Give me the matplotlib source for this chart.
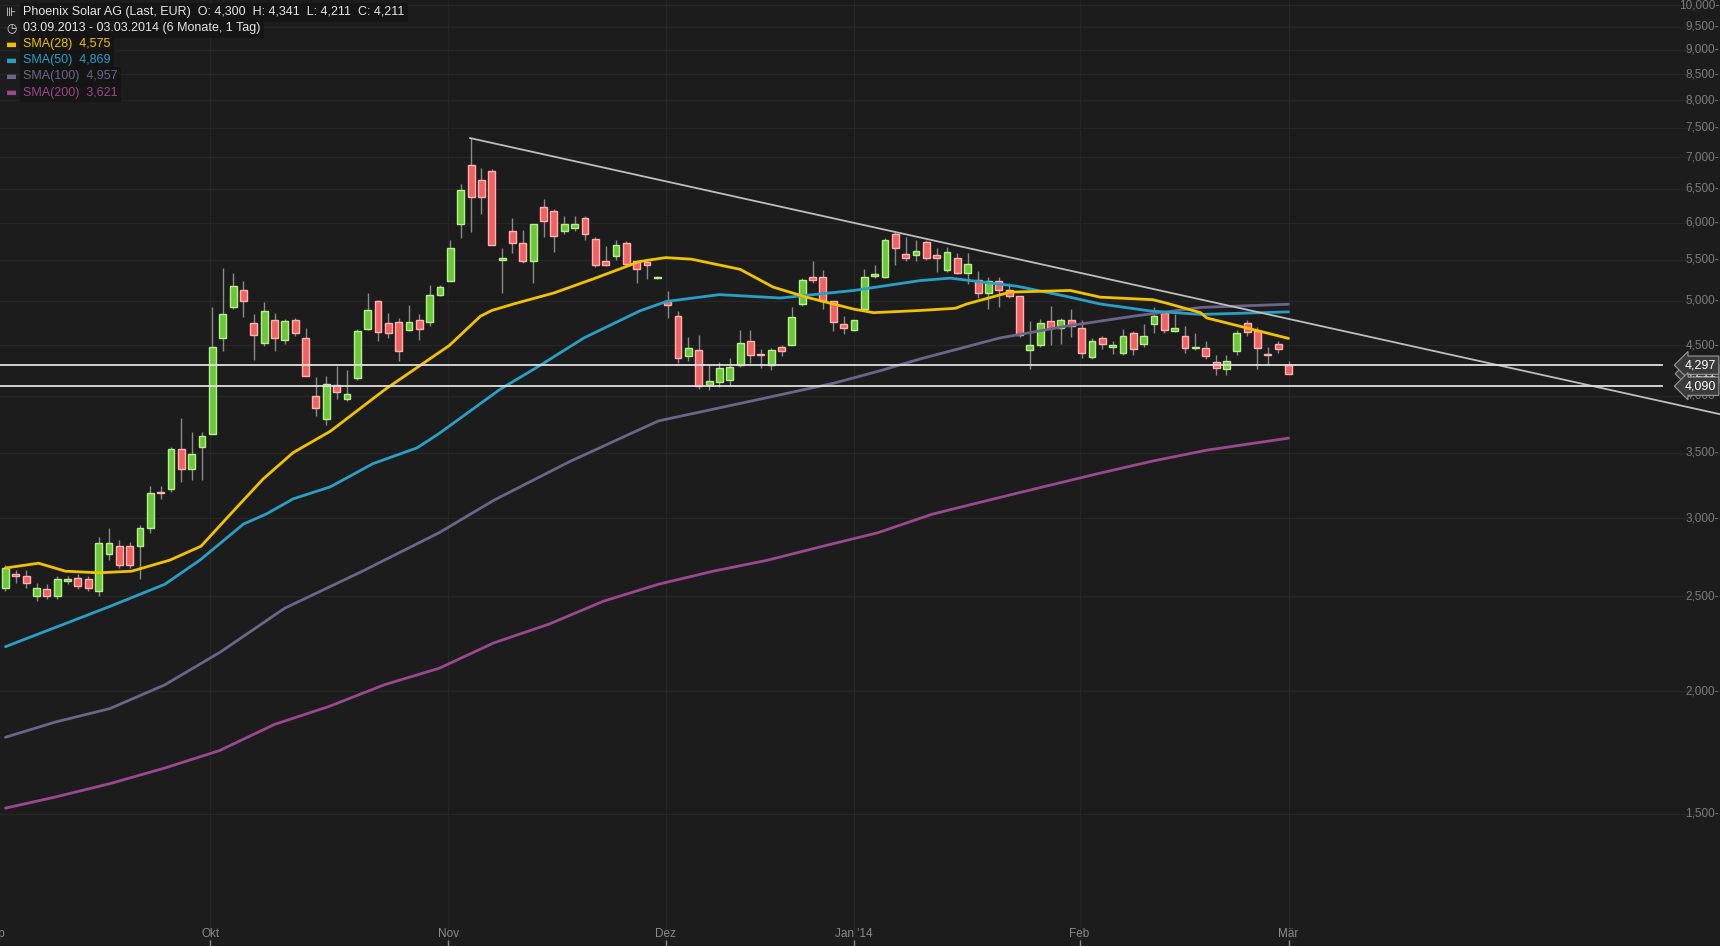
import numpy as np
import matplotlib
matplotlib.use("Agg")
import matplotlib.pyplot as plt
from matplotlib.transforms import blended_transform_factory

plt.rcParams['font.family'] = ['Liberation Sans', 'DejaVu Sans']

# ─── Daily candles (open, high, low, close), 03.09.2013 - 03.03.2014 ───
OPEN = [2.55, 2.63, 2.62, 2.50, 2.54, 2.50, 2.59, 2.61, 2.60, 2.53,
        2.76, 2.81, 2.81, 2.81, 2.93, 3.19, 3.21, 3.53, 3.37, 3.55,
        3.66, 4.58, 4.93, 5.13, 4.74, 4.53, 4.78, 4.56, 4.78, 4.58,
        4.00, 3.79, 4.10, 3.97, 4.17, 4.68, 4.99, 4.74, 4.76, 4.67,
        4.78, 4.76, 5.06, 5.24, 5.98, 6.87, 6.63, 6.78, 5.50, 5.89,
        5.72, 5.48, 6.23, 6.17, 5.89, 5.93, 6.07, 5.78, 5.48, 5.55,
        5.72, 5.48, 5.47, 5.27, 4.99, 4.82, 4.39, 4.45, 4.10, 4.13,
        4.15, 4.30, 4.55, 4.41, 4.30, 4.48, 4.51, 4.96, 5.28, 5.28,
        4.99, 4.73, 4.67, 4.90, 5.30, 5.28, 5.85, 5.58, 5.56, 5.74,
        5.56, 5.37, 5.52, 5.33, 5.25, 5.09, 5.23, 5.13, 5.05, 4.45,
        4.50, 4.77, 4.69, 4.78, 4.69, 4.38, 4.58, 4.48, 4.42, 4.63,
        4.52, 4.73, 4.86, 4.66, 4.60, 4.47, 4.47, 4.33, 4.26, 4.44,
        4.74, 4.65, 4.41, 4.52, 4.30]
HIGH = [2.69, 2.66, 2.66, 2.58, 2.57, 2.62, 2.62, 2.63, 2.62, 2.87,
        2.93, 2.85, 2.84, 2.95, 3.24, 3.24, 3.55, 3.80, 3.67, 3.67,
        4.92, 5.40, 5.33, 5.24, 4.85, 4.98, 4.86, 4.79, 4.80, 4.69,
        4.18, 4.19, 4.29, 4.25, 4.68, 5.09, 5.01, 4.86, 4.80, 4.95,
        4.84, 5.18, 5.18, 5.76, 6.58, 7.32, 6.83, 6.80, 5.66, 6.07,
        5.90, 5.99, 6.35, 6.20, 6.09, 6.10, 6.09, 5.81, 5.68, 5.76,
        5.75, 5.50, 5.48, 5.30, 5.11, 4.88, 4.59, 4.61, 4.31, 4.33,
        4.37, 4.67, 4.67, 4.46, 4.47, 4.50, 4.92, 5.27, 5.49, 5.37,
        4.99, 4.82, 4.78, 5.39, 5.44, 5.79, 5.88, 5.80, 5.76, 5.77,
        5.66, 5.67, 5.59, 5.59, 5.36, 5.29, 5.29, 5.21, 5.05, 4.77,
        4.79, 4.94, 4.80, 4.90, 4.78, 4.58, 4.60, 4.55, 4.68, 4.65,
        4.73, 4.92, 4.88, 4.84, 4.71, 4.63, 4.55, 4.40, 4.40, 4.67,
        4.78, 4.70, 4.48, 4.55, 4.341]
LOW = [2.53, 2.58, 2.55, 2.47, 2.48, 2.48, 2.57, 2.54, 2.53, 2.50,
       2.72, 2.67, 2.67, 2.60, 2.90, 3.14, 3.19, 3.27, 3.28, 3.28,
       3.66, 4.44, 4.90, 4.81, 4.35, 4.49, 4.44, 4.52, 4.60, 4.19,
       3.81, 3.73, 3.97, 3.95, 4.15, 4.67, 4.55, 4.58, 4.34, 4.65,
       4.56, 4.71, 5.05, 5.23, 5.79, 5.87, 6.12, 5.70, 5.09, 5.59,
       5.46, 5.21, 5.80, 5.60, 5.85, 5.89, 5.76, 5.41, 5.42, 5.50,
       5.42, 5.21, 5.26, 5.26, 4.80, 4.32, 4.34, 4.06, 4.05, 4.08,
       4.10, 4.28, 4.32, 4.27, 4.25, 4.39, 4.50, 4.94, 5.21, 4.90,
       4.65, 4.62, 4.66, 4.88, 5.27, 5.27, 5.44, 5.48, 5.49, 5.50,
       5.35, 5.35, 5.32, 5.20, 5.03, 4.90, 4.92, 5.03, 4.59, 4.26,
       4.48, 4.51, 4.52, 4.59, 4.37, 4.36, 4.46, 4.41, 4.40, 4.40,
       4.48, 4.63, 4.63, 4.64, 4.42, 4.45, 4.36, 4.20, 4.20, 4.40,
       4.60, 4.26, 4.30, 4.42, 4.211]
CLOSE = [2.67, 2.62, 2.58, 2.55, 2.50, 2.60, 2.60, 2.56, 2.55, 2.83,
         2.83, 2.69, 2.69, 2.93, 3.18, 3.18, 3.53, 3.37, 3.49, 3.64,
         4.48, 4.84, 5.17, 4.99, 4.61, 4.88, 4.58, 4.77, 4.63, 4.19,
         3.89, 4.11, 4.03, 4.02, 4.66, 4.89, 4.64, 4.63, 4.44, 4.76,
         4.68, 5.06, 5.16, 5.65, 6.48, 6.38, 6.37, 5.70, 5.53, 5.72,
         5.48, 5.99, 6.02, 5.82, 5.99, 5.99, 5.85, 5.44, 5.44, 5.70,
         5.45, 5.39, 5.43, 5.29, 4.95, 4.37, 4.47, 4.09, 4.14, 4.27,
         4.28, 4.53, 4.40, 4.40, 4.45, 4.44, 4.81, 5.25, 5.25, 4.99,
         4.75, 4.69, 4.78, 5.29, 5.30, 5.76, 5.65, 5.52, 5.61, 5.52,
         5.53, 5.60, 5.33, 5.45, 5.09, 5.23, 5.13, 5.05, 4.61, 4.50,
         4.74, 4.69, 4.78, 4.71, 4.42, 4.55, 4.52, 4.51, 4.60, 4.46,
         4.60, 4.82, 4.67, 4.69, 4.47, 4.47, 4.39, 4.27, 4.34, 4.63,
         4.64, 4.47, 4.40, 4.46, 4.211]

# ─── Moving averages (candle index, price) ───
SMA28_X = [0, 3.2, 5.8, 9.0, 12.2, 15.9, 18.9, 22.0, 24.9, 27.8, 31.4, 36.7,
           42.9, 45.9, 47.0, 49.1, 53.0, 56.8, 61.3, 63.8, 66.3, 71.0, 74.2,
           77.4, 82.0, 83.9, 88.4, 91.8, 92.9, 97.1, 102.9, 105.8, 110.9,
           112.2, 115.5, 116.1, 124]
SMA28_Y = [2.67, 2.70, 2.65, 2.64, 2.65, 2.72, 2.81, 3.05, 3.29, 3.50, 3.68, 4.06,
           4.50, 4.82, 4.885, 4.96, 5.09, 5.26, 5.48, 5.53, 5.51, 5.38, 5.16,
           5.04, 4.90, 4.86, 4.885, 4.91, 4.96, 5.10, 5.12, 5.04, 5.01,
           4.97, 4.86, 4.80, 4.575]
SMA50_X = [0, 10.1, 15.4, 18.8, 23.0, 25.2, 27.8, 31.4, 35.5, 39.8, 41.9, 47.8,
           51.6, 55.9, 61.3, 63.9, 69.0, 74.9, 82.0, 88.4, 91.3, 97.8, 102.5,
           105.8, 110.6, 115.5, 124]
SMA50_Y = [2.22, 2.44, 2.57, 2.72, 2.96, 3.03, 3.14, 3.23, 3.41, 3.54, 3.66, 4.06,
           4.29, 4.58, 4.88, 4.99, 5.07, 5.03, 5.12, 5.24, 5.27, 5.17, 5.05,
           4.96, 4.88, 4.84, 4.869]
SMA100_X = [0, 4.8, 10.1, 15.4, 20.7, 27.0, 34.5, 41.9, 47.2, 54.6, 63.1, 71.6,
            80.1, 84.5, 88.4, 96.1, 102.6, 109, 115.5, 124]
SMA100_Y = [1.795, 1.86, 1.92, 2.03, 2.19, 2.43, 2.65, 2.90, 3.13, 3.43, 3.77, 3.94,
            4.12, 4.24, 4.36, 4.58, 4.71, 4.82, 4.92, 4.957]
SMA200_X = [0, 4.8, 10.1, 15.4, 20.7, 26.0, 31.3, 36.6, 41.9, 47.2, 52.5, 57.8,
            63.1, 68.4, 73.7, 79.0, 84.3, 89.6, 95.0, 100.3, 105.5, 110.8, 116.1, 124]
SMA200_Y = [1.52, 1.56, 1.61, 1.67, 1.74, 1.85, 1.93, 2.03, 2.11, 2.24, 2.34, 2.47,
            2.57, 2.65, 2.72, 2.81, 2.90, 3.03, 3.13, 3.23, 3.33, 3.43, 3.52, 3.621]

TREND_X = [44.9, 165.7]
TREND_Y = [7.32, 3.83]
LEVELS = [4.297, 4.090]

MONTH_POS = [-1.0, 19.8, 42.8, 63.8, 82.0, 103.8, 124.0]
MONTH_LBL = ['Sep', 'Okt', 'Nov', 'Dez', "Jan '14", 'Feb', 'Mär']
YTICKS = [1.5, 2.0, 2.5, 3.0, 3.5, 4.0, 4.5, 5.0, 5.5, 6.0, 6.5, 7.0, 7.5,
          8.0, 8.5, 9.0, 9.5, 10.0]
YTICK_LBL = ['1,500', '2,000', '2,500', '3,000', '3,500', '4,000', '4,500',
             '5,000', '5,500', '6,000', '6,500', '7,000', '7,500', '8,000',
             '8,500', '9,000', '9,500', '10,000']

BG = '#1c1c1c'
GREEN, GREEN_EDGE = '#6cc63a', '#b4f08c'
RED, RED_EDGE = '#f06262', '#ffb0b0'

fig = plt.figure(figsize=(17.2, 9.46), dpi=100, facecolor=BG)
ax = fig.add_axes([0, 0, 1, 1])
ax.set_facecolor(BG)
ax.set_yscale('log')
ax.set_xlim(-0.53, 165.7)
ax.set_ylim(1.10, 10.12)
ax.set_axis_off()

# grid
for y in YTICKS:
    ax.axhline(y, color='#262626', linewidth=1, zorder=0)
for x in MONTH_POS[1:]:
    ax.axvline(x, color='#262626', linewidth=1, zorder=0)

# candles
o = np.array(OPEN); h = np.array(HIGH); l = np.array(LOW); c = np.array(CLOSE)
idx = np.arange(len(o))
up = c >= o
ax.vlines(idx, l, h, color='#8a8a8a', linewidth=1, zorder=2)
lo = np.minimum(o, c)
hi = np.maximum(o, c)
hi = np.maximum(hi, lo * 1.003)
ax.bar(idx[up], hi[up] - lo[up], bottom=lo[up], width=0.66,
       color=GREEN, edgecolor=GREEN_EDGE, linewidth=1, zorder=3)
ax.bar(idx[~up], hi[~up] - lo[~up], bottom=lo[~up], width=0.66,
       color=RED, edgecolor=RED_EDGE, linewidth=1, zorder=3)

# moving averages
kw = dict(linewidth=2, zorder=4, solid_joinstyle='round', solid_capstyle='round')
ax.plot(SMA200_X, SMA200_Y, color='#9a4890', **kw)
ax.plot(SMA100_X, SMA100_Y, color='#6c6588', **kw)
ax.plot(SMA50_X, SMA50_Y, color='#2a9fc6', **kw)
ax.plot(SMA28_X, SMA28_Y, color='#f2c200', **kw)

# trendline and levels
ax.plot(TREND_X, TREND_Y, color='#bdbdbd', linewidth=1.3, zorder=5)
for lv in LEVELS:
    ax.axhline(lv, xmin=0, xmax=0.966, color='#e0e0e0', linewidth=1.3, zorder=5)

# right axis labels
tr = blended_transform_factory(ax.transAxes, ax.transData)
for y, s in zip(YTICKS, YTICK_LBL):
    ax.text(0.9995, y, s + '-', transform=tr, ha='right', va='center',
            fontsize=8.5, color='#7c7c7c', zorder=6)
for val, s in [(4.211, '4,211'), (4.297, '4,297'), (4.090, '4,090')]:
    ax.text(0.9975, val, s, transform=tr, ha='right', va='center',
            fontsize=9, color='white', zorder=7,
            bbox=dict(boxstyle='larrow,pad=0.25', facecolor='#3a3a3a',
                      edgecolor='#9a9a9a', linewidth=0.8))

# month labels and ticks
xt = blended_transform_factory(ax.transData, ax.transAxes)
for x, s in zip(MONTH_POS, MONTH_LBL):
    ax.text(x, 0.013, s, transform=xt, ha='center', va='center',
            fontsize=8.5, color='#8a8a8a', zorder=6)
    ax.vlines(x, 0, 0.006, transform=xt, color='#8a8a8a', linewidth=1)

# legend block
rows = [
    ('\u22aa', '#e6e6e6', 'Phoenix Solar AG (Last, EUR)  O: 4,300  H: 4,341  L: 4,211  C: 4,211', '#e6e6e6'),
    ('\u25f7', '#e6e6e6', '03.09.2013 - 03.03.2014 (6 Monate, 1 Tag)', '#e6e6e6'),
    ('\u25ac', '#f2c200', 'SMA(28)  4,575', '#f2c200'),
    ('\u25ac', '#2a9fc6', 'SMA(50)  4,869', '#2a9fc6'),
    ('\u25ac', '#6c6588', 'SMA(100)  4,957', '#6c6588'),
    ('\u25ac', '#9a4890', 'SMA(200)  3,621', '#9a4890'),
]
for k, (icon, icol, txt, tcol) in enumerate(rows):
    yy = 1 - (12.5 + 16 * k) / 946
    fig.text(0.0035, yy, icon, fontsize=8.5, color=icol, va='center', ha='left',
             family=['DejaVu Sans'])
    fig.text(0.0135, yy, txt, fontsize=9, color=tcol, va='center', ha='left',
             bbox=dict(boxstyle='square,pad=0.25', facecolor='#141414',
                       edgecolor='none', alpha=0.85))

fig.savefig('out.png', dpi=100, facecolor=BG)
